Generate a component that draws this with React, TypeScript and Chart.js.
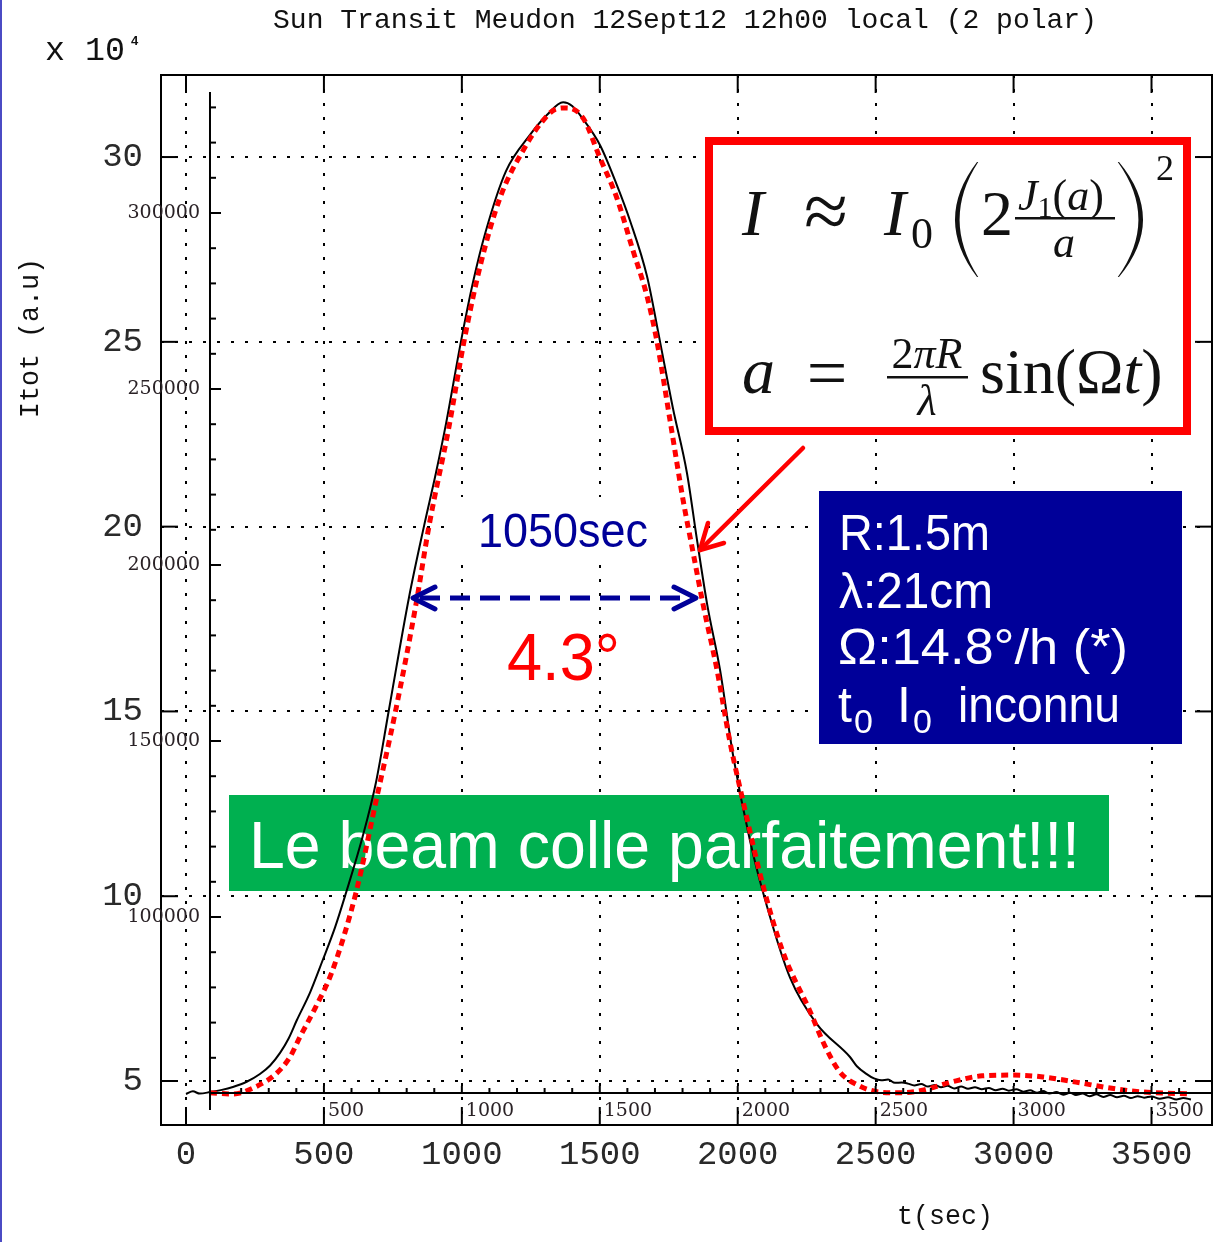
import React, { useEffect, useRef } from 'react';
import { Chart, registerables } from 'chart.js';

Chart.register(...registerables);

const TITLE = 'Sun Transit Meudon 12Sept12 12h00 local (2 polar)';
const Y_TITLE = 'Itot (a.u)';
const X_TITLE = 't(sec)';
const SCALE_NOTE = 'x 10';
const SCALE_EXP = '4';

// measured transit (Itot, units of 10^4)
const measuredT = [0, 25, 50, 87, 130, 170, 220, 268, 305, 341, 372, 402, 450, 493, 540, 580, 640, 689, 736, 808, 863, 906, 943, 997, 1040, 1087, 1160, 1247, 1310, 1367, 1400, 1439, 1501, 1562, 1610, 1671, 1718, 1765, 1816, 1852, 1889, 1936, 1983, 2045, 2106, 2190, 2287, 2407, 2432, 2465, 2494, 2520, 2545, 2570, 2595, 2617, 2640, 2665, 2690, 2715, 2737, 2760, 2785, 2810, 2835, 2860, 2885, 2910, 2935, 2960, 2983, 3010, 3035, 3060, 3085, 3107, 3130, 3155, 3180, 3205, 3226, 3250, 3275, 3300, 3325, 3350, 3375, 3400, 3425, 3450, 3473, 3500, 3530, 3560, 3590, 3615, 3643];
const measuredI = [4.65, 4.72, 4.66, 4.70, 4.76, 4.84, 4.98, 5.19, 5.42, 5.76, 6.15, 6.65, 7.4, 8.22, 9.15, 10.09, 11.6, 13.09, 15.06, 18.07, 20.02, 21.45, 22.8, 25.02, 26.6, 28.0, 29.62, 30.6, 31.15, 31.48, 31.38, 31.03, 30.32, 29.24, 28.27, 26.78, 25.02, 23.21, 21.45, 19.66, 17.91, 16.12, 13.82, 11.49, 9.73, 7.79, 6.54, 5.65, 5.40, 5.20, 5.07, 5.02, 5.04, 4.95, 4.96, 4.93, 4.88, 4.92, 4.85, 4.89, 4.83, 4.87, 4.80, 4.85, 4.79, 4.83, 4.78, 4.81, 4.75, 4.79, 4.74, 4.78, 4.71, 4.75, 4.68, 4.73, 4.66, 4.70, 4.63, 4.68, 4.62, 4.66, 4.59, 4.64, 4.57, 4.62, 4.56, 4.60, 4.54, 4.59, 4.55, 4.58, 4.52, 4.56, 4.50, 4.54, 4.50];

// beam model (red dotted)
const beamT = [87, 170, 243, 330, 377, 413, 470, 529, 616, 689, 761, 834, 881, 953, 1008, 1069, 1138, 1233, 1290, 1341, 1380, 1439, 1501, 1562, 1620, 1671, 1707, 1755, 1802, 1838, 1874, 1925, 1972, 2019, 2092, 2164, 2262, 2316, 2371, 2443, 2516, 2592, 2675, 2773, 2886, 2994, 3107, 3226, 3350, 3473, 3643];
const beamI = [4.68, 4.65, 4.81, 5.22, 5.65, 6.19, 7.0, 7.95, 10.09, 12.58, 15.06, 17.91, 20.02, 22.69, 25.02, 27.13, 28.89, 30.32, 30.95, 31.30, 31.33, 31.06, 29.97, 28.89, 27.48, 26.24, 25.02, 22.86, 20.72, 19.31, 17.91, 16.12, 14.17, 12.58, 10.28, 8.49, 6.89, 5.95, 5.24, 4.86, 4.70, 4.68, 4.76, 4.97, 5.14, 5.16, 5.11, 4.97, 4.81, 4.70, 4.65];

const xTickValues = [0, 500, 1000, 1500, 2000, 2500, 3000, 3500];
const yTickValues = [5, 10, 15, 20, 25, 30];
const xRange = [-90.6, 3719.3];
const yRange = [3.81, 32.22];

// overlaid inner axes (raw a.u.)
const innerYRange = [40909, 339205];
const innerYLabels = [100000, 150000, 200000, 250000, 300000];
const innerXLabels = [500, 1000, 1500, 2000, 2500, 3000, 3500];
const innerAxisT = 87;
const innerBase = 50000;
const innerTop = 334400;

const infoLines = ['R:1.5m', 'λ:21cm', 'Ω:14.8°/h (*)'];
const fwhmLabel = '1050sec';
const angleLabel = '4.3°';
const banner = 'Le beam colle parfaitement!!!';

const SERIF = "'Liberation Serif'";
const SANS = "'Liberation Sans'";
const MONO = "'Liberation Mono'";

function fitText(ctx: CanvasRenderingContext2D, s: string, x: number, y: number, w: number, font: string, color: string) {
  ctx.save();
  ctx.font = font;
  ctx.fillStyle = color;
  ctx.textAlign = 'left';
  ctx.textBaseline = 'alphabetic';
  const m = ctx.measureText(s).width;
  ctx.translate(x, y);
  ctx.scale(w / m, 1);
  ctx.fillText(s, 0, 0);
  ctx.restore();
}

function seg(ctx: CanvasRenderingContext2D, x1: number, y1: number, x2: number, y2: number) {
  ctx.beginPath();
  ctx.moveTo(x1, y1);
  ctx.lineTo(x2, y2);
  ctx.stroke();
}

function runs(ctx: CanvasRenderingContext2D, x: number, y: number, parts: [string, string, number][]) {
  let cx = x;
  for (const [s, f, dy] of parts) {
    ctx.font = f;
    ctx.fillText(s, cx, y + dy);
    cx += ctx.measureText(s).width;
  }
  return cx;
}

function runsWidth(ctx: CanvasRenderingContext2D, parts: [string, string, number][]) {
  let w = 0;
  for (const [s, f] of parts) {
    ctx.font = f;
    w += ctx.measureText(s).width;
  }
  return w;
}

function paren(ctx: CanvasRenderingContext2D, x: number, top: number, bot: number, bulge: number, thick: number, dir: number) {
  const mid = (top + bot) / 2;
  ctx.beginPath();
  ctx.moveTo(x, top);
  ctx.quadraticCurveTo(x + dir * bulge * 2, mid, x, bot);
  ctx.lineTo(x - dir * 1.2, bot);
  ctx.quadraticCurveTo(x + dir * (bulge * 2 - thick * 2), mid, x - dir * 1.2, top);
  ctx.closePath();
  ctx.fill();
}

const decoPlugin = {
  id: 'deco',
  beforeDatasetsDraw(chart: any) {
    const ctx: CanvasRenderingContext2D = chart.ctx;
    ctx.save();
    // green banner
    ctx.fillStyle = '#00B050';
    ctx.fillRect(229, 795, 880, 96);
    fitText(ctx, banner, 249, 868, 831, `66px ${SANS}`, '#ffffff');
    // white patch behind FWHM label
    ctx.fillStyle = '#ffffff';
    ctx.fillRect(450, 497, 220, 66);
    // formula box
    ctx.fillStyle = '#ffffff';
    ctx.fillRect(705, 137, 486, 298);
    ctx.strokeStyle = '#ff0000';
    ctx.lineWidth = 8;
    ctx.strokeRect(709, 141, 478, 290);
    // parameter box
    ctx.fillStyle = '#000099';
    ctx.fillRect(819, 491, 363, 253);
    ctx.restore();
  },
  afterDraw(chart: any) {
    const ctx: CanvasRenderingContext2D = chart.ctx;
    const ca = chart.chartArea;
    const xs = chart.scales.x;
    const ys = chart.scales.y;
    const y2 = chart.scales.y2;
    ctx.save();

    // slide edge
    ctx.fillStyle = '#4b4bc4';
    ctx.fillRect(0, 0, 2, 1242);

    // frame
    ctx.strokeStyle = '#000';
    ctx.lineWidth = 2;
    ctx.setLineDash([]);
    ctx.strokeRect(ca.left, ca.top, ca.right - ca.left, ca.bottom - ca.top);
    for (const v of xTickValues) {
      const p = xs.getPixelForValue(v);
      seg(ctx, p, ca.top, p, ca.top + 18);
      seg(ctx, p, ca.bottom, p, ca.bottom - 18);
    }
    for (const v of yTickValues) {
      const p = ys.getPixelForValue(v);
      seg(ctx, ca.left, p, ca.left + 17, p);
      seg(ctx, ca.right, p, ca.right - 17, p);
    }

    // inner axes
    const ax = xs.getPixelForValue(innerAxisT);
    const ay = y2.getPixelForValue(innerBase);
    seg(ctx, ax, y2.getPixelForValue(innerTop), ax, ay + 17);
    seg(ctx, ax, ay, ca.right, ay);
    for (let v = innerBase + 10000; v <= 330000; v += 10000) {
      const p = y2.getPixelForValue(v);
      seg(ctx, ax, p, ax + (v % 50000 === 0 ? 11 : 6), p);
    }
    for (let t = 200; t <= 3600; t += 100) {
      const p = xs.getPixelForValue(t);
      seg(ctx, p, ay, p, ay - (t % 500 === 0 ? 7 : 5));
    }
    ctx.fillStyle = '#2a2226';
    ctx.font = `19px 'DejaVu Serif'`;
    ctx.textBaseline = 'middle';
    ctx.textAlign = 'right';
    for (const v of innerYLabels) {
      ctx.fillText(String(v), ax - 10, y2.getPixelForValue(v));
    }
    ctx.textAlign = 'left';
    for (const v of innerXLabels) {
      ctx.fillText(String(v), xs.getPixelForValue(v) + 4, ay + 18);
    }

    // titles
    ctx.textBaseline = 'alphabetic';
    fitText(ctx, TITLE, 273, 28, 824, `28px ${MONO}`, '#111');
    fitText(ctx, X_TITLE, 897, 1224, 96, `27px ${MONO}`, '#111');
    ctx.save();
    ctx.translate(38, 418);
    ctx.rotate(-Math.PI / 2);
    fitText(ctx, Y_TITLE, 0, 0, 160, `27px ${MONO}`, '#111');
    ctx.restore();
    fitText(ctx, SCALE_NOTE, 45, 60, 80, `33px ${MONO}`, '#111');
    ctx.fillStyle = '#111';
    ctx.font = `bold 13px ${SANS}`;
    ctx.textAlign = 'left';
    ctx.fillText(SCALE_EXP, 131, 45);

    // red arrow
    ctx.strokeStyle = '#ff0000';
    ctx.lineWidth = 4.5;
    ctx.lineCap = 'round';
    seg(ctx, 803, 448, 701, 549);
    seg(ctx, 700, 550, 708, 523);
    seg(ctx, 700, 550, 724, 543);

    // FWHM dashed double arrow
    ctx.strokeStyle = '#000099';
    ctx.lineWidth = 5;
    ctx.lineCap = 'butt';
    ctx.setLineDash([20, 10]);
    seg(ctx, 420, 598, 692, 598);
    ctx.setLineDash([]);
    ctx.lineCap = 'round';
    ctx.lineJoin = 'round';
    ctx.beginPath();
    ctx.moveTo(435, 587); ctx.lineTo(413, 598); ctx.lineTo(435, 609);
    ctx.stroke();
    ctx.beginPath();
    ctx.moveTo(674, 587); ctx.lineTo(696, 598); ctx.lineTo(674, 609);
    ctx.stroke();

    fitText(ctx, fwhmLabel, 478, 547, 170, `49px ${SANS}`, '#000099');
    fitText(ctx, angleLabel, 507, 680, 113, `66px ${SANS}`, '#ff0000');

    // parameter box text
    fitText(ctx, infoLines[0], 839, 550, 151, `50px ${SANS}`, '#ffffff');
    fitText(ctx, infoLines[1], 839, 608, 154, `50px ${SANS}`, '#ffffff');
    fitText(ctx, infoLines[2], 838, 664, 290, `50px ${SANS}`, '#ffffff');
    ctx.fillStyle = '#ffffff';
    ctx.textAlign = 'left';
    ctx.font = `50px ${SANS}`;
    ctx.fillText('t', 838, 722);
    ctx.fillText('I', 897, 722);
    ctx.font = `34px ${SANS}`;
    ctx.fillText('0', 854, 733);
    ctx.fillText('0', 913, 733);
    fitText(ctx, 'inconnu', 958, 722, 162, `50px ${SANS}`, '#ffffff');

    // formula
    ctx.fillStyle = '#111';
    ctx.textAlign = 'left';
    const it = (n: number) => `italic ${n}px ${SERIF}`;
    const up = (n: number) => `${n}px ${SERIF}`;
    ctx.font = it(66);
    ctx.fillText('I', 742, 235);
    ctx.textAlign = 'center';
    ctx.font = up(80);
    ctx.fillText('≈', 826, 238);
    ctx.textAlign = 'left';
    ctx.font = it(66);
    ctx.fillText('I', 884, 235);
    ctx.font = up(44);
    ctx.fillText('0', 911, 248);
    paren(ctx, 977, 162, 277, 22, 4, -1);
    ctx.font = up(64);
    ctx.fillText('2', 981, 235);
    runs(ctx, 1018, 210, [['J', it(44), 0], ['1', up(30), 7], ['(', up(44), 0], ['a', it(44), 0], [')', up(44), 0]]);
    ctx.fillRect(1015, 217, 100, 2.5);
    ctx.textAlign = 'center';
    ctx.font = it(44);
    ctx.fillText('a', 1064, 257);
    ctx.textAlign = 'left';
    paren(ctx, 1119, 162, 277, 24, 4, 1);
    ctx.font = up(36);
    ctx.fillText('2', 1156, 180);

    ctx.font = it(66);
    ctx.fillText('a', 742, 393);
    ctx.textAlign = 'center';
    ctx.font = up(72);
    ctx.fillText('=', 827, 397);
    ctx.textAlign = 'left';
    const num: [string, string, number][] = [['2', up(44), 0], ['π', it(44), 0], ['R', it(44), 0]];
    const nw = runsWidth(ctx, num);
    runs(ctx, 927 - nw / 2, 368, num);
    ctx.fillRect(887, 376, 81, 2.5);
    ctx.textAlign = 'center';
    ctx.font = it(44);
    ctx.fillText('λ', 927, 415);
    ctx.textAlign = 'left';
    runs(ctx, 980, 393, [['sin(', up(64), 0], ['Ω', up(64), 0], ['t', it(64), 0], [')', up(64), 0]]);

    ctx.restore();
  },
};

export default function App() {
  const ref = useRef<HTMLCanvasElement>(null);
  useEffect(() => {
    const measured = measuredT.map((t, i) => ({ x: t, y: measuredI[i] }));
    const beam = beamT.map((t, i) => ({ x: t, y: beamI[i] }));
    const chart = new Chart(ref.current as HTMLCanvasElement, {
      type: 'line',
      data: {
        datasets: [
          {
            label: 'beam',
            data: beam,
            borderColor: '#ff0000',
            borderWidth: 5,
            borderDash: [7, 5],
            borderCapStyle: 'butt',
            pointRadius: 0,
            cubicInterpolationMode: 'monotone',
            fill: false,
          },
          {
            label: 'Itot',
            data: measured,
            borderColor: '#000000',
            borderWidth: 2,
            pointRadius: 0,
            cubicInterpolationMode: 'monotone',
            fill: false,
          },
        ],
      },
      options: {
        animation: false,
        responsive: false,
        devicePixelRatio: 1,
        layout: { padding: { top: 75, right: 6, left: 0, bottom: 0 } },
        plugins: { legend: { display: false }, title: { display: false }, tooltip: { enabled: false } },
        scales: {
          x: {
            type: 'linear',
            min: xRange[0],
            max: xRange[1],
            afterFit: (s: any) => { s.height = 117; },
            afterBuildTicks: (s: any) => { s.ticks = xTickValues.map((v) => ({ value: v })); },
            ticks: {
              includeBounds: false,
              stepSize: 500,
              maxRotation: 0,
              autoSkip: false,
              padding: 10,
              color: '#2a2a2a',
              font: { family: 'Liberation Mono', size: 34 },
              callback: (v: any) => String(v),
            },
            grid: { color: '#000', lineWidth: 2, drawTicks: false },
            border: { display: false, dash: [3, 11] },
          },
          y: {
            type: 'linear',
            min: yRange[0],
            max: yRange[1],
            afterFit: (s: any) => { s.width = 161; },
            afterBuildTicks: (s: any) => { s.ticks = yTickValues.map((v) => ({ value: v })); },
            ticks: {
              includeBounds: false,
              stepSize: 5,
              padding: 18,
              color: '#2a2a2a',
              font: { family: 'Liberation Mono', size: 34 },
              callback: (v: any) => String(v),
            },
            grid: { color: '#000', lineWidth: 2, drawTicks: false },
            border: { display: false, dash: [3, 11] },
          },
          y2: {
            type: 'linear',
            display: false,
            min: innerYRange[0],
            max: innerYRange[1],
          },
        },
      },
      plugins: [decoPlugin],
    } as any);
    return () => chart.destroy();
  }, []);
  return (
    <div style={{ position: 'absolute', left: 0, top: 0, width: 1218, height: 1242, background: '#fff' }}>
      <canvas ref={ref} width={1218} height={1242} style={{ display: 'block', width: 1218, height: 1242 }} />
    </div>
  );
}
